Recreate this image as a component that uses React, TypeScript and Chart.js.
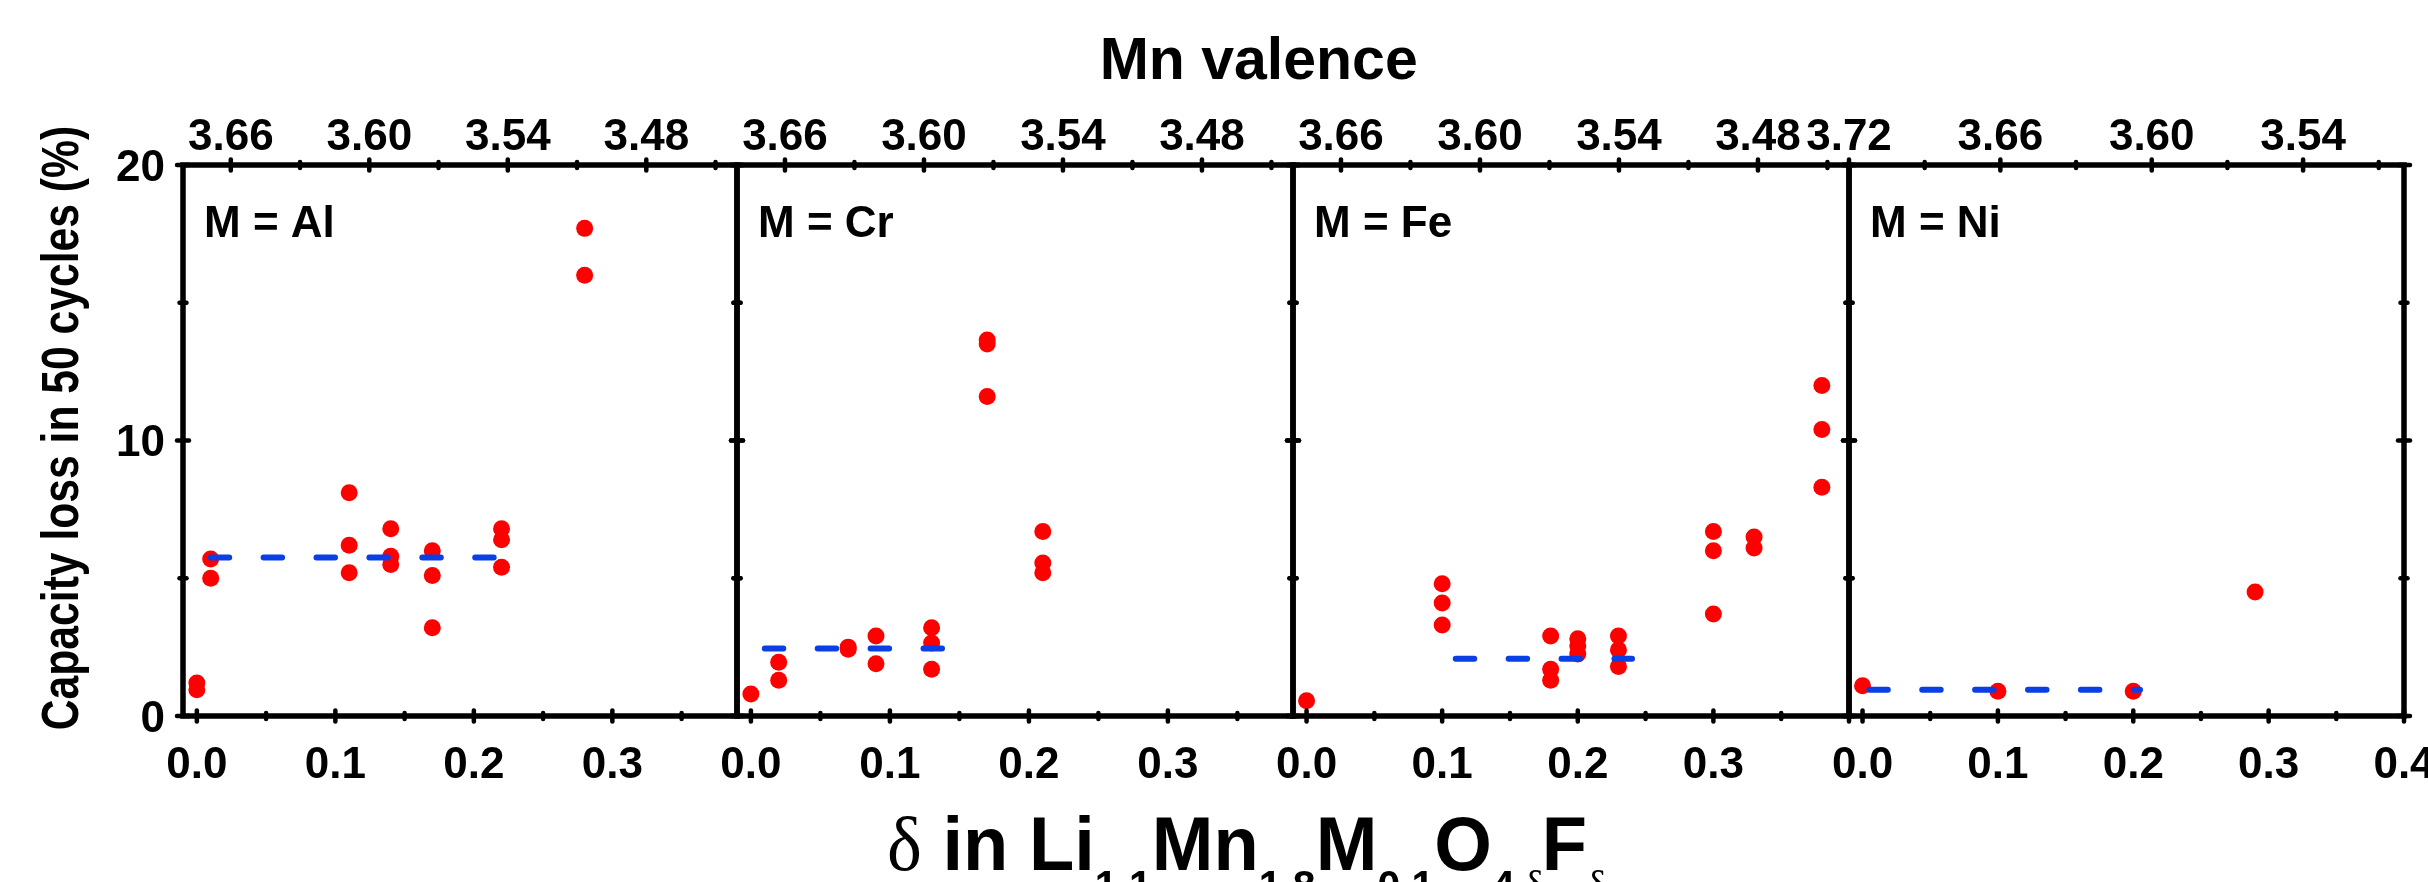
import React, { useEffect, useRef } from 'react';
import { Chart, registerables } from 'chart.js';
Chart.register(...registerables);

// ---------------- data ----------------
const panelNames = ['M = Al', 'M = Cr', 'M = Fe', 'M = Ni'];

const deltaAl = [0, 0, 0.01, 0.01, 0.11, 0.11, 0.11, 0.14, 0.14, 0.14, 0.17, 0.17, 0.17, 0.22, 0.22, 0.22, 0.28, 0.28];
const lossAl = [1.2, 0.95, 5.7, 5.0, 8.1, 6.2, 5.2, 6.8, 5.8, 5.5, 6.0, 5.1, 3.2, 6.8, 6.4, 5.4, 17.7, 16.0];

const deltaCr = [0, 0.02, 0.02, 0.07, 0.07, 0.09, 0.09, 0.13, 0.13, 0.13, 0.17, 0.17, 0.17, 0.21, 0.21, 0.21];
const lossCr = [0.8, 1.95, 1.3, 2.5, 2.42, 2.9, 1.9, 3.2, 2.65, 1.7, 13.65, 13.5, 11.6, 6.7, 5.55, 5.2];

const deltaFe = [0, 0.1, 0.1, 0.1, 0.18, 0.18, 0.18, 0.2, 0.2, 0.2, 0.23, 0.23, 0.23, 0.3, 0.3, 0.3, 0.33, 0.33, 0.38, 0.38, 0.38];
const lossFe = [0.55, 4.8, 4.1, 3.3, 2.9, 1.7, 1.3, 2.8, 2.55, 2.25, 2.9, 2.4, 1.8, 6.7, 6.0, 3.7, 6.5, 6.1, 12.0, 10.4, 8.3];

const deltaNi = [0, 0.1, 0.2, 0.29];
const lossNi = [1.1, 0.9, 0.9, 4.5];

// dashed average lines: [start delta, end delta] and level
const fitDeltaAl = [0.01, 0.22];
const fitLossAl = 5.75;
const fitDeltaCr = [0.01, 0.14];
const fitLossCr = 2.45;
const fitDeltaFe = [0.11, 0.24];
const fitLossFe = 2.08;
const fitDeltaNi = [0.005, 0.205];
const fitLossNi = 0.95;

// axis ranges and ticks
const deltaRangeAlCr = [-0.01, 0.39];
const deltaRangeFeNi = [-0.01, 0.4];
const valenceRangeAlCrFe = [3.4407, 3.6807];
const valenceRangeNi = [3.5, 3.72];
const lossRange = [0, 20];

const deltaTicks = [0, 0.1, 0.2, 0.3];
const deltaTicksNi = [0, 0.1, 0.2, 0.3, 0.4];
const deltaMinorTicks = [0.05, 0.15, 0.25, 0.35];
const valenceTicks = [3.66, 3.6, 3.54, 3.48];
const valenceMinorTicks = [3.63, 3.57, 3.51, 3.45];
const valenceTicksNi = [3.72, 3.66, 3.6, 3.54];
const valenceMinorTicksNi = [3.69, 3.63, 3.57, 3.51];
const lossTicks = [0, 10, 20];
const lossMinorTicks = [5, 15];

// ---------------- layout / style ----------------
const W = 2428;
const H = 882;
const MARGIN = 100;
const PLOT_TOP = 165;
const PLOT_BOTTOM = 716;
const panelLeft = [183, 737, 1293, 1849];
const panelRight = [737, 1293, 1849, 2404];
const FONT = '"Liberation Sans", Arial, Helvetica, sans-serif';
const RED = '#ff0000';
const BLUE = '#0a3fe6';
const TICK_FS = 44;

type PanelCfg = {
  name: string;
  delta: number[];
  loss: number[];
  fitDelta: number[];
  fitLoss: number;
  deltaRange: number[];
  valenceRange: number[];
  dTicks: number[];
  vTicks: number[];
  vMinor: number[];
  showY: boolean;
  left: number;
  right: number;
};

const panels: PanelCfg[] = [
  { name: panelNames[0], delta: deltaAl, loss: lossAl, fitDelta: fitDeltaAl, fitLoss: fitLossAl, deltaRange: deltaRangeAlCr, valenceRange: valenceRangeAlCrFe, dTicks: deltaTicks, vTicks: valenceTicks, vMinor: valenceMinorTicks, showY: true, left: panelLeft[0], right: panelRight[0] },
  { name: panelNames[1], delta: deltaCr, loss: lossCr, fitDelta: fitDeltaCr, fitLoss: fitLossCr, deltaRange: deltaRangeAlCr, valenceRange: valenceRangeAlCrFe, dTicks: deltaTicks, vTicks: valenceTicks, vMinor: valenceMinorTicks, showY: false, left: panelLeft[1], right: panelRight[1] },
  { name: panelNames[2], delta: deltaFe, loss: lossFe, fitDelta: fitDeltaFe, fitLoss: fitLossFe, deltaRange: deltaRangeFeNi, valenceRange: valenceRangeAlCrFe, dTicks: deltaTicks, vTicks: valenceTicks, vMinor: valenceMinorTicks, showY: false, left: panelLeft[2], right: panelRight[2] },
  { name: panelNames[3], delta: deltaNi, loss: lossNi, fitDelta: fitDeltaNi, fitLoss: fitLossNi, deltaRange: deltaRangeFeNi, valenceRange: valenceRangeNi, dTicks: deltaTicksNi, vTicks: valenceTicksNi, vMinor: valenceMinorTicksNi, showY: false, left: panelLeft[3], right: panelRight[3] },
];

function makeFramePlugin(cfg: PanelCfg) {
  return {
    id: 'frame',
    afterDatasetsDraw(chart: any) {
      const { ctx, chartArea } = chart;
      const { left, right, top, bottom } = chartArea;
      const xs = chart.scales.x;
      const ys = chart.scales.y;
      const vs = chart.scales.v;
      ctx.save();
      ctx.strokeStyle = '#000';
      ctx.fillStyle = '#000';
      // panel frame
      ctx.lineWidth = 5.5;
      ctx.lineJoin = 'miter';
      ctx.strokeRect(left, top, right - left, bottom - top);

      // tick marks (crossing the frame lines)
      ctx.lineWidth = 4.5;
      ctx.lineCap = 'round';
      const vLine = (x: number, y: number, h: number) => {
        ctx.beginPath();
        ctx.moveTo(x, y - h);
        ctx.lineTo(x, y + h);
        ctx.stroke();
      };
      const hLine = (x: number, y: number, h: number) => {
        ctx.beginPath();
        ctx.moveTo(x - h, y);
        ctx.lineTo(x + h, y);
        ctx.stroke();
      };
      [0, 0.1, 0.2, 0.3, 0.4].forEach((d) => {
        if (d <= cfg.deltaRange[1] + 1e-9) vLine(xs.getPixelForValue(d), bottom, 5.5);
      });
      deltaMinorTicks.forEach((d) => vLine(xs.getPixelForValue(d), bottom, 3));
      cfg.vTicks.forEach((v) => vLine(vs.getPixelForValue(v), top, 5.5));
      cfg.vMinor.forEach((v) => vLine(vs.getPixelForValue(v), top, 3));
      lossTicks.forEach((l) => {
        const py = ys.getPixelForValue(l);
        hLine(left, py, 6);
        hLine(right, py, 6);
      });
      lossMinorTicks.forEach((l) => {
        const py = ys.getPixelForValue(l);
        hLine(left, py, 3.5);
        hLine(right, py, 3.5);
      });

      // tick labels
      ctx.font = `bold ${TICK_FS}px ${FONT}`;
      ctx.textBaseline = 'alphabetic';
      ctx.textAlign = 'center';
      cfg.dTicks.forEach((d) => {
        ctx.fillText(d.toFixed(1), xs.getPixelForValue(d), bottom + 62);
      });
      cfg.vTicks.forEach((v) => {
        ctx.fillText(v.toFixed(2), vs.getPixelForValue(v), top - 15);
      });
      if (cfg.showY) {
        ctx.textAlign = 'right';
        lossTicks.forEach((l) => {
          ctx.fillText(String(l), left - 18, ys.getPixelForValue(l) + 15.5);
        });
      }

      // panel label
      ctx.font = `bold 44px ${FONT}`;
      ctx.textAlign = 'left';
      ctx.fillText(cfg.name, left + 21, top + 72);
      ctx.restore();
    },
  };
}

function Panel({ cfg }: { cfg: PanelCfg }) {
  const ref = useRef<HTMLCanvasElement>(null);
  const width = cfg.right - cfg.left + 2 * MARGIN;
  useEffect(() => {
    const chart = new Chart(ref.current as HTMLCanvasElement, {
      type: 'scatter',
      data: {
        datasets: [
          {
            type: 'line',
            data: cfg.fitDelta.map((d) => ({ x: d, y: cfg.fitLoss })),
            borderColor: BLUE,
            borderWidth: 6,
            borderDash: [18.5, 34.4],
            borderCapStyle: 'round',
            pointRadius: 0,
            fill: false,
            order: 0,
          } as any,
          {
            type: 'scatter',
            data: cfg.delta.map((d, i) => ({ x: d, y: cfg.loss[i] })),
            pointRadius: 8.5,
            pointHoverRadius: 8.5,
            backgroundColor: RED,
            borderWidth: 0,
            order: 1,
          } as any,
        ],
      },
      options: {
        responsive: false,
        animation: false,
        devicePixelRatio: 1,
        events: [],
        layout: { padding: { left: MARGIN, right: MARGIN, top: PLOT_TOP, bottom: H - PLOT_BOTTOM } },
        plugins: { legend: { display: false }, tooltip: { enabled: false } },
        scales: {
          x: { type: 'linear', min: cfg.deltaRange[0], max: cfg.deltaRange[1], display: false },
          y: { type: 'linear', min: lossRange[0], max: lossRange[1], display: false },
          v: { type: 'linear', axis: 'x', position: 'top', min: cfg.valenceRange[0], max: cfg.valenceRange[1], reverse: true, display: false },
        },
      } as any,
      plugins: [makeFramePlugin(cfg)],
    });
    return () => chart.destroy();
  }, []);
  return (
    <canvas ref={ref} width={width} height={H} style={{ position: 'absolute', left: cfg.left - MARGIN, top: 0, width, height: H }} />
  );
}

const sub = (fs: number, drop: number, extra?: React.CSSProperties): React.CSSProperties => ({
  fontSize: fs,
  lineHeight: `${fs}px`,
  verticalAlign: -drop,
  ...(extra || {}),
});
const greek: React.CSSProperties = { fontFamily: '"Liberation Serif", "DejaVu Serif", serif', fontWeight: 'normal' };

export default function App() {
  const yFs = 52;
  const yCx = 78 - 0.3465 * yFs;
  const yCy = 428;
  const tFs = 59;
  const xFs = 76;
  const sFs = 42;
  const drop = 30;
  return (
    <div style={{ position: 'fixed', left: 0, top: 0, width: W, height: H, background: '#fff', overflow: 'hidden', fontFamily: FONT, color: '#000' }}>
      {panels.map((p) => (
        <Panel key={p.name} cfg={p} />
      ))}
      <div style={{ position: 'absolute', left: 1258.7 - 300, width: 600, top: 80 - 0.8465 * tFs, fontSize: tFs, lineHeight: `${tFs}px`, fontWeight: 'bold', textAlign: 'center', whiteSpace: 'nowrap' }}>
        Mn valence
      </div>
      <div
        style={{
          position: 'absolute',
          left: yCx - 400,
          width: 800,
          top: yCy - yFs / 2,
          height: yFs,
          fontSize: yFs,
          lineHeight: `${yFs}px`,
          fontWeight: 'bold',
          textAlign: 'center',
          whiteSpace: 'nowrap',
          transform: 'rotate(-90deg) scaleX(0.82)',
          transformOrigin: 'center center',
        }}
      >
        Capacity loss in 50 cycles (%)
      </div>
      <div
        style={{
          position: 'absolute',
          left: 887,
          top: 870 - 0.8465 * xFs,
          fontSize: xFs,
          lineHeight: `${xFs}px`,
          fontWeight: 'bold',
          whiteSpace: 'nowrap',
          transform: 'scaleX(0.975)',
          transformOrigin: 'left center',
        }}
      >
        <span style={greek}>δ</span> in Li<span style={sub(sFs, drop)}>1.1</span>Mn<span style={sub(sFs, drop)}>1.8</span>M<span style={sub(sFs, drop)}>0.1</span>O<span style={sub(sFs, drop, { letterSpacing: -2 })}>4-<span style={greek}>δ</span></span>F<span style={sub(sFs, drop)}><span style={greek}>δ</span></span>
      </div>
    </div>
  );
}
